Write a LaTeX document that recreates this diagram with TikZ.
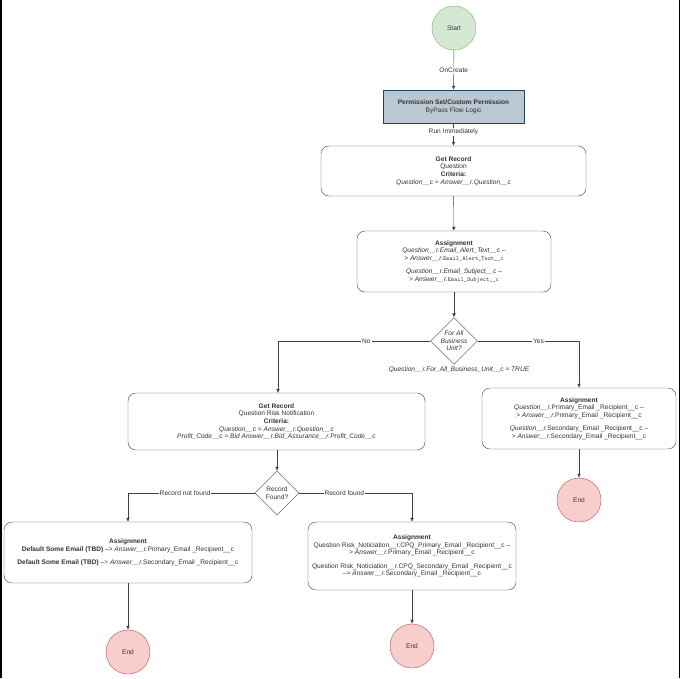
\documentclass[tikz,border=0pt]{standalone}
\usepackage{fontspec}
\setmainfont{Liberation Sans}
\usetikzlibrary{shapes.geometric,arrows.meta}
\definecolor{gfill}{HTML}{D5E8D4}\definecolor{gline}{HTML}{82B366}
\definecolor{rfill}{HTML}{F8CECC}\definecolor{rline}{HTML}{B85450}
\definecolor{bfill}{HTML}{BAC8D3}\definecolor{bline}{HTML}{23445D}
\definecolor{txt}{HTML}{333333}
\begin{document}
\begin{tikzpicture}[x=1pt,y=-1pt,
  every node/.style={font=\fontsize{6.6}{7.6}\selectfont,text=txt,align=center},
  box/.style={draw=black!75,rounded corners=8pt,fill=white,inner sep=0pt},
  st/.style={circle,draw=gline,fill=gfill,minimum size=44pt,inner sep=0pt},
  en/.style={circle,draw=rline,fill=rfill,minimum size=44pt,inner sep=0pt},
  dia/.style={diamond,draw=black!75,fill=white,minimum width=46pt,minimum height=46pt,inner sep=0pt},
  ar/.style={draw=black!75,-{Latex[length=4pt,width=3.5pt]}},
  lbl/.style={fill=white,inner sep=1pt}]
\useasboundingbox (0,0) rectangle (680,678);
\fill[white] (0,0) rectangle (680,678);
\draw[black,line width=2pt] (1,0) -- (1,678);
\draw[black,line width=1pt] (679,0) -- (679,678);
\node[st] (start) at (454,28) {Start};
\node[draw=bline,fill=bfill,minimum width=141pt,minimum height=33pt,inner sep=0pt] (perm) at (453.5,106.5) {\textbf{Permission Set/Custom Permission}\\ByPass Flow Logic};
\node[box,minimum width=265pt,minimum height=50pt] (gr1) at (453.5,171) {\textbf{Get Record}\\Question\\\textbf{Criteria:}\\\textit{Question\_\_c = Answer\_\_r.Question\_\_c}};
\node[box,minimum width=194pt,minimum height=61pt] (as1) at (454,261.5) {\textbf{Assignment}\\\textit{Question\_\_r.Email\_Alert\_Text\_\_c --}\\\textit{> Answer\_\_r.}\texttt{\fontsize{6}{7.6}\selectfont Email\_Alert\_Text\_\_c}\\[6pt]\textit{Question\_\_r.Email\_Subject\_\_c --}\\\textit{> Answer\_\_r.}\texttt{\fontsize{6}{7.6}\selectfont Email\_Subject\_\_c}};
\node[dia] (d1) at (454,341) {\textit{For All}\\\textit{Business}\\\textit{Unit?}};
\node (cond) at (459,370) {\textit{Question\_\_r.For\_All\_Business\_Unit\_\_c = TRUE}};
\node[box,minimum width=297pt,minimum height=57pt] (gr2) at (276.5,421.5) {\textbf{Get Record}\\Question Risk Notification\\\textbf{Criteria:}\\\textit{Question\_\_c = Answer\_\_r.Question\_\_c}\\\textit{Profit\_Code\_\_c = Bid Answer\_\_r.Bid\_Assurance\_\_r.Profit\_Code\_\_c}};
\node[box,minimum width=194pt,minimum height=61pt] (as2) at (579,418.5) {\textbf{Assignment}\\\textit{Question\_\_r.}Primary\_Email \_Recipient\_\_c --\\> \textit{Answer\_\_r.}Primary\_Email \_Recipient\_\_c\\[6pt]\textit{Question\_\_r.}Secondary\_Email \_Recipient\_\_c --\\> \textit{Answer\_\_r.}Secondary\_Email \_Recipient\_\_c};
\node[en] (end1) at (579,500) {End};
\node[dia,minimum width=44pt,minimum height=44pt] (d2) at (277,493) {Record\\Found?};
\node[box,minimum width=248pt,minimum height=61pt] (as3) at (128,552.5) {\textbf{Assignment}\\\textbf{Default Some Email (TBD)} --> \textit{Answer\_\_r.}Primary\_Email \_Recipient\_\_c\\[6pt]\textbf{Default Some Email (TBD)} --> \textit{Answer\_\_r.}Secondary\_Email \_Recipient\_\_c};
\node[box,minimum width=208pt,minimum height=68pt] (as4) at (412,556) {\textbf{Assignment}\\Question Risk\_Noticiation\_\_r.CPQ\_Primary\_Email \_Recipient\_\_c --\\> \textit{Answer\_\_r.}Primary\_Email \_Recipient\_\_c\\[6pt]Question Risk\_Noticiation\_\_r.CPQ\_Secondary\_Email \_Recipient\_\_c\\--> \textit{Answer\_\_r.}Secondary\_Email \_Recipient\_\_c};
\node[en] (end2) at (128,652) {End};
\node[en] (end3) at (412,646) {End};
\draw[ar] (start) -- node[lbl]{OnCreate} (perm);
\draw[ar] (perm) -- node[lbl,pos=0.4]{Run Immediately} (gr1);
\draw[ar] (gr1) -- (as1);
\draw[ar] (as1) -- (d1);
\draw[ar] (d1.west) -- node[lbl,pos=0.42]{No} (278,341) -- (278,393);
\draw[ar] (d1.east) -- node[lbl,pos=0.6]{Yes} (579,341) -- (as2.north);
\draw[ar] (as2) -- (end1);
\draw[ar] (gr2.south -| d2) -- (d2);
\draw[ar] (d2.west) -- node[lbl,pos=0.55]{Record not found} (128,493) -- (as3.north);
\draw[ar] (d2.east) -- node[lbl,pos=0.4]{Record found} (412,493) -- (as4.north);
\draw[ar] (as3) -- (end2);
\draw[ar] (as4) -- (end3);
\end{tikzpicture}
\end{document}
